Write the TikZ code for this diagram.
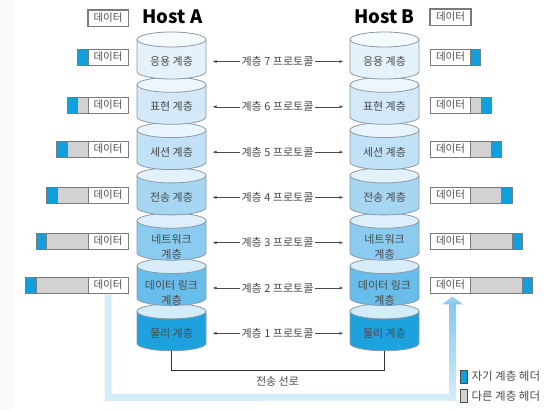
\documentclass[tikz,border=0pt]{standalone}
\usepackage{fontspec}
\newfontfamily\kr{Noto Sans CJK KR}
\usetikzlibrary{arrows.meta,calc}
\definecolor{edgegray}{HTML}{FAFAFA}
\definecolor{cylline}{HTML}{8A9AA6}
\definecolor{bzero}{HTML}{E6F2FB}\definecolor{tzero}{HTML}{F5FAFD}
\definecolor{bone}{HTML}{D3E9F8}\definecolor{tone}{HTML}{EEF6FC}
\definecolor{btwo}{HTML}{C0E1F6}\definecolor{ttwo}{HTML}{E9F4FC}
\definecolor{bthree}{HTML}{A7D6F3}\definecolor{tthree}{HTML}{E3F1FB}
\definecolor{bfour}{HTML}{8ACBEF}\definecolor{tfour}{HTML}{DDEFFA}
\definecolor{bfive}{HTML}{69BDEA}\definecolor{tfive}{HTML}{D8EDF9}
\definecolor{bsix}{HTML}{1EA2DE}\definecolor{tsix}{HTML}{D4ECF8}
\definecolor{hdrblue}{HTML}{0FA0E0}
\definecolor{hdrgray}{HTML}{D2D2D2}
\definecolor{boxline}{HTML}{7A7A7A}
\definecolor{txtgray}{HTML}{4A4A4A}
\definecolor{bandlight}{HTML}{D5ECFA}
\definecolor{banddark}{HTML}{86C8EE}
\tikzset{
  cylout/.style={draw=cylline, line width=0.8pt},
  cyltext/.style={font=\kr\fontsize{11}{14.5}\selectfont, text=txtgray, align=center, inner sep=0pt},
  prototext/.style={font=\kr\fontsize{11}{13}\selectfont, text=txtgray, inner sep=1pt, fill=white},
  protoarrow/.style={draw=txtgray, line width=0.6pt, -{Latex[length=4pt,width=3pt]}},
  databox/.style={draw=boxline, line width=0.9pt, fill=white, minimum width=40pt, minimum height=16pt, inner sep=0pt, font=\kr\fontsize{10.5}{12}\selectfont, text=txtgray},
  hosttext/.style={font=\kr\bfseries\fontsize{18.5}{22}\selectfont, text=black},
  legtext/.style={font=\kr\fontsize{11.5}{13}\selectfont, text=txtgray, anchor=west, inner sep=0pt},
}
\begin{document}
\begin{tikzpicture}[x=1pt,y=-1pt]
\useasboundingbox (0,0) rectangle (560,410);
\fill[white] (0,0) rectangle (560,410);
\fill[edgegray] (0,0) rectangle (13,410);

% cylinders (drawn bottom-up so upper segments overlap lower ones)
\foreach \i/\bc/\tc in {6/bsix/tsix,5/bfive/tfive,4/bfour/tfour,3/bthree/tthree,2/btwo/ttwo,1/bone/tone,0/bzero/tzero}{
  \pgfmathsetmacro\yt{39.5+45.3*\i}
  \pgfmathsetmacro\yb{\yt+32}
  \foreach \cx in {171.5,384.5}{
    \fill[\bc] (\cx-34.5,\yt) -- (\cx-34.5,\yb) arc[start angle=180,end angle=360,x radius=34.5pt,y radius=7.5pt] -- (\cx+34.5,\yt) -- cycle;
    \draw[cylout] (\cx-34.5,\yt) -- (\cx-34.5,\yb) arc[start angle=180,end angle=360,x radius=34.5pt,y radius=7.5pt] -- (\cx+34.5,\yt);
    \filldraw[cylout, fill=\tc] (\cx,\yt) ellipse[x radius=34.5pt,y radius=7.5pt];
  }
}

% layer names
\foreach \i/\n/\t/\dy in {0/7/{응용 계층}/22, 1/6/{표현 계층}/22, 2/5/{세션 계층}/22, 3/4/{전송 계층}/22, 4/3/{네트워크\\계층}/26, 5/2/{데이터 링크\\계층}/27, 6/1/{물리 계층}/22}{
  \pgfmathsetmacro\yc{39.5+45.3*\i+\dy}
  \node[cyltext] (A\n) at (171.5,\yc) {\t};
  \node[cyltext] (B\n) at (384.5,\yc) {\t};
}

% protocol labels and arrows
\foreach \i/\n in {0/7,1/6,2/5,3/4,4/3,5/2,6/1}{
  \pgfmathsetmacro\yc{39.5+45.3*\i+22}
  \node[prototext] (P\n) at (277.5,\yc) {계층 \n\ 프로토콜};
  \coordinate (PL\n) at (212.5,\yc);
  \coordinate (PR\n) at (343.5,\yc);
  \draw[protoarrow] (P\n.west) -- (PL\n);
  \draw[protoarrow] (P\n.east) -- (PR\n);
}

% transmission line
\coordinate (botA) at (171.5,350.5);
\coordinate (botB) at (384.5,350.5);
\draw[line width=1pt, draw=black!80] (botA) -- (171.5,370) -- (384.5,370) -- (botB);
\node[font=\kr\fontsize{11}{13}\selectfont, text=txtgray] (line) at (277.5,381) {전송 선로};

% host titles
\node[hosttext] (hostA) at (172.5,16.5) {Host A};
\node[hosttext] (hostB) at (384.5,16.5) {Host B};

% data boxes
\foreach \k/\yc in {0/18,1/57,2/105,3/149,4/195,5/241,6/285}{
  \ifnum\k>0
    \fill[hdrgray] (88-10.4*\k,\yc-8) rectangle (88,\yc+8);
    \fill[hdrblue] (88-10.4*\k,\yc-8) rectangle (88-10.4*\k+10.4,\yc+8);
    \draw[boxline, line width=0.6pt] (88-10.4*\k+10.4,\yc-8) -- (88-10.4*\k+10.4,\yc+8);
    \draw[boxline, line width=0.9pt] (88-10.4*\k,\yc-8) rectangle (88,\yc+8);
  \fi
  \node[databox] (L\k) at (108,\yc) {데이터};
}
\foreach \k/\yc in {0/17,1/57,2/105,3/149,4/195,5/241,6/285}{
  \ifnum\k>0
    \fill[hdrgray] (470.5,\yc-8) rectangle (470.5+10.4*\k,\yc+8);
    \fill[hdrblue] (470.5+10.4*\k-10.4,\yc-8) rectangle (470.5+10.4*\k,\yc+8);
    \draw[boxline, line width=0.6pt] (470.5+10.4*\k-10.4,\yc-8) -- (470.5+10.4*\k-10.4,\yc+8);
    \draw[boxline, line width=0.9pt] (470.5,\yc-8) rectangle (470.5+10.4*\k,\yc+8);
  \fi
  \node[databox] (R\k) at (450.5,\yc) {데이터};
}
\draw[boxline, line width=1.4pt] (L0.north west) rectangle (L0.south east);
\draw[boxline, line width=1.4pt] (R0.north west) rectangle (R0.south east);

% light-blue transfer band
\coordinate (bandturn) at ($(L6.south)+(0,104)$);
\coordinate (bandend) at (452.5,397);
\draw[bandlight, line width=7pt] ($(L6.south)+(0,1)$) -- (bandturn) -- (bandend);
\shade[top color=banddark, bottom color=bandlight] (449,304) rectangle (456,400.5);
\shade[top color=banddark!80, bottom color=banddark] ($(R6.south)+(-8.5,11)$) -- ($(R6.south)+(2,3)$) -- ($(R6.south)+(12.5,11)$) -- cycle;

% legend
\node[fill=hdrblue, draw=black!70, line width=0.6pt, minimum width=7pt, minimum height=13pt, inner sep=0pt] (lgA) at (463.5,376.5) {};
\node[legtext] (lgAt) at ($(lgA.east)+(4,0)$) {자기 계층 헤더};
\node[fill=hdrgray, draw=black!70, line width=0.6pt, minimum width=7pt, minimum height=13pt, inner sep=0pt] (lgB) at (463.5,396) {};
\node[legtext] (lgBt) at ($(lgB.east)+(4,0)$) {다른 계층 헤더};
\end{tikzpicture}
\end{document}
